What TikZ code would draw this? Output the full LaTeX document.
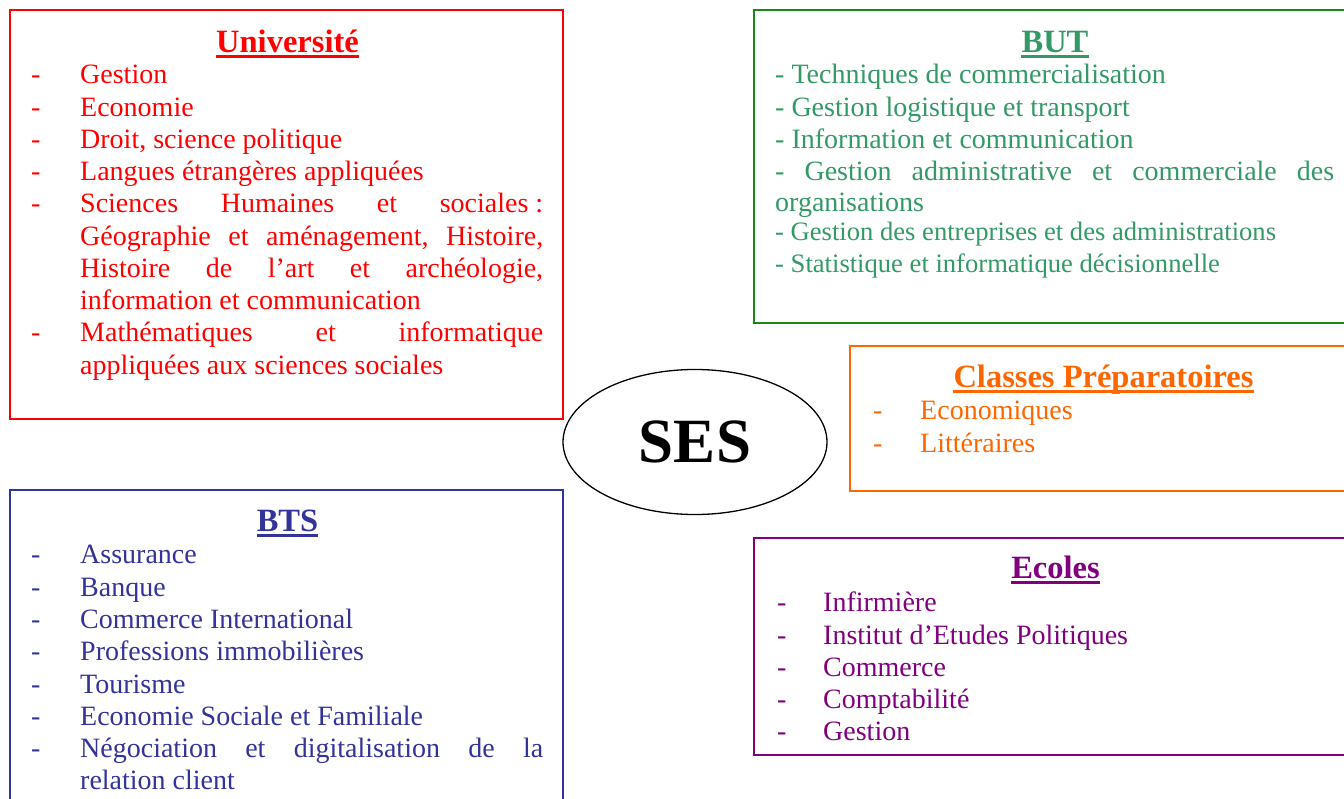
\documentclass[tikz,border=0pt]{standalone}
\usepackage{fontspec}
\setmainfont{Liberation Serif}
\usetikzlibrary{shapes.geometric}
\definecolor{univ}{HTML}{FF0000}
\definecolor{buttxt}{HTML}{339966}
\definecolor{butbrd}{HTML}{168A16}
\definecolor{prep}{HTML}{FF6600}
\definecolor{bts}{HTML}{333399}
\definecolor{ecol}{HTML}{800080}
\newcommand\ulttl[2]{\draw[line width=3pt,#2] ([yshift=-4.5pt]#1.base west) -- ([yshift=-4.5pt]#1.base east);}
\begin{document}
\begin{tikzpicture}[x=1pt,y=-1pt,
  frame/.style={line width=1.6pt},
  body/.style={inner sep=0pt, anchor=base west, font=\fontsize{28}{32}\selectfont},
  smallbody/.style={inner sep=0pt, anchor=base west, font=\fontsize{26.6}{30}\selectfont},
  ttl/.style={inner sep=0pt, anchor=base, font=\fontsize{32.5}{36}\selectfont\bfseries},
]
\useasboundingbox (0,0) rectangle (1344,798);
\fill[white] (0,0) rectangle (1344,798);

% ---------- Université ----------
\draw[frame,univ] (10,10) rectangle (563,419);
\node[ttl,univ] (ut) at (287.5,52) {Université};
\ulttl{ut}{univ}
\foreach \y/\n in {83/a,116/b,148/c,180/d,212/e,341/f}
  \node[body,univ] (ud\n) at (31,\y) {-};
\node[body,univ] (u1) at (80,83) {Gestion};
\node[body,univ] (u2) at (80,116) {Economie};
\node[body,univ] (u3) at (80,148) {Droit, science politique};
\node[body,univ] (u4) at (80,180) {Langues étrangères appliquées};
\node[body,univ] (u5) at (80,212) {\hbox to 463pt{Sciences\hfill Humaines\hfill et\hfill sociales~:}};
\node[body,univ] (u6) at (80,245) {\hbox to 463pt{Géographie\hfill et\hfill aménagement,\hfill Histoire,}};
\node[body,univ] (u7) at (80,277) {\hbox to 463pt{Histoire\hfill de\hfill l’art\hfill et\hfill archéologie,}};
\node[body,univ] (u8) at (80,309) {information et communication};
\node[body,univ] (u9) at (80,341) {\hbox to 463pt{Mathématiques\hfill et\hfill informatique}};
\node[body,univ] (u10) at (80,374) {appliquées aux sciences sociales};

% ---------- BUT ----------
\draw[frame,butbrd] (1352,10) -- (754,10) -- (754,323) -- (1352,323);
\node[ttl,buttxt] (bt) at (1055,52) {BUT};
\ulttl{bt}{buttxt}
\node[body,buttxt] (b1) at (775,83) {- Techniques de commercialisation};
\node[body,buttxt] (b2) at (775,116) {- Gestion logistique et transport};
\node[body,buttxt] (b3) at (775,148) {- Information et communication};
\node[body,buttxt] (b4) at (775,180) {\hbox to 559pt{-\hfill Gestion\hfill administrative\hfill et\hfill commerciale\hfill des}};
\node[body,buttxt] (b5) at (775,211) {organisations};
\node[smallbody,buttxt] (b6) at (775,240) {- Gestion des entreprises et des administrations};
\node[smallbody,buttxt] (b7) at (775,272) {- Statistique et informatique décisionnelle};

% ---------- Classes Préparatoires ----------
\draw[frame,prep] (1352,346) -- (850,346) -- (850,491) -- (1352,491);
\node[ttl,prep] (ct) at (1103.5,387) {Classes Préparatoires};
\ulttl{ct}{prep}
\node[body,prep] (cda) at (873,419) {-};
\node[body,prep] (cdb) at (873,452) {-};
\node[body,prep] (c1) at (920,419) {Economiques};
\node[body,prep] (c2) at (920,452) {Littéraires};

% ---------- BTS ----------
\draw[frame,bts] (10,805) -- (10,490) -- (563,490) -- (563,805);
\node[ttl,bts] (st) at (287.5,531) {BTS};
\ulttl{st}{bts}
\foreach \y/\n in {563/a,596/b,628/c,660/d,693/e,725/f,757/g}
  \node[body,bts] (sd\n) at (31,\y) {-};
\node[body,bts] (s1) at (80,563) {Assurance};
\node[body,bts] (s2) at (80,596) {Banque};
\node[body,bts] (s3) at (80,628) {Commerce International};
\node[body,bts] (s4) at (80,660) {Professions immobilières};
\node[body,bts] (s5) at (80,693) {Tourisme};
\node[body,bts] (s6) at (80,725) {Economie Sociale et Familiale};
\node[body,bts] (s7) at (80,757) {\hbox to 463pt{Négociation\hfill et\hfill digitalisation\hfill de\hfill la}};
\node[body,bts] (s8) at (80,789) {relation client};

% ---------- Ecoles ----------
\draw[frame,ecol] (1352,538) -- (754,538) -- (754,755) -- (1352,755);
\node[ttl,ecol] (et) at (1055.5,578) {Ecoles};
\ulttl{et}{ecol}
\foreach \y/\n in {611/a,644/b,676/c,708/d,740/e}
  \node[body,ecol] (ed\n) at (777,\y) {-};
\node[body,ecol] (e1) at (823,611) {Infirmière};
\node[body,ecol] (e2) at (823,644) {Institut d’Etudes Politiques};
\node[body,ecol] (e3) at (823,676) {Commerce};
\node[body,ecol] (e4) at (823,708) {Comptabilité};
\node[body,ecol] (e5) at (823,740) {Gestion};

% ---------- SES ----------
\node[ellipse, draw, line width=1.3pt, minimum width=264pt, minimum height=145pt, inner sep=0pt,
      font=\fontsize{63}{66}\selectfont\bfseries] (ses) at (695,442) {SES};
\end{tikzpicture}
\end{document}
